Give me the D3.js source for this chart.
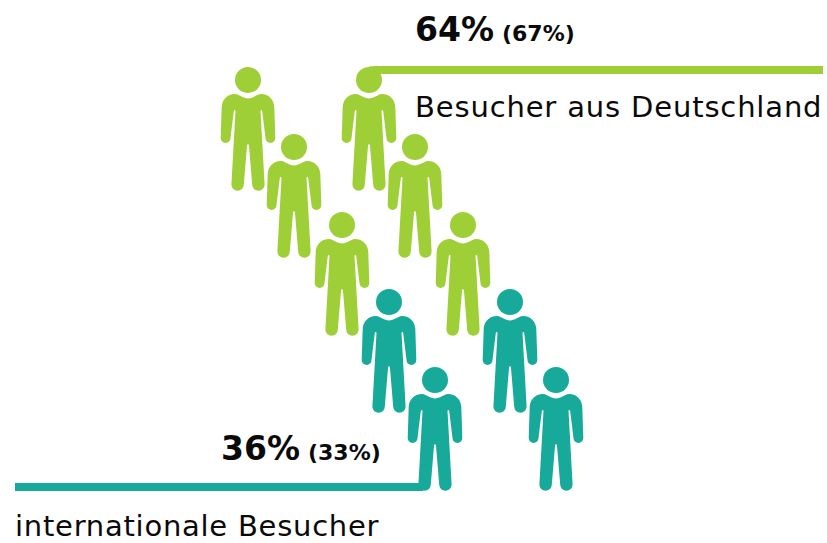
<!DOCTYPE html>
<html><head><meta charset="utf-8">
<script src="https://cdnjs.cloudflare.com/ajax/libs/d3/7.8.5/d3.min.js"></script>
<style>html,body{margin:0;padding:0;background:#fff}svg{display:block}text{font-family:"DejaVu Sans",sans-serif;fill:#0a0a0a}</style>
</head><body><svg id="c" width="827" height="543"></svg>
<script>
const groups = ["Besucher aus Deutschland", "internationale Besucher"];
const shares = [64, 36];
const previous = [67, 33];
const colors = ["#9ecf37", "#17a999"];
const columns = [0, 1];
const rows = [0, 1, 2, 3, 4];
const peopleColumn = [0,0,0,0,0,1,1,1,1,1];
const peopleRow    = [0,1,2,3,4,0,1,2,3,4];
const peopleGroup  = [0,0,0,1,1,0,0,0,1,1];

const svg = d3.select("#c");
const xRow = d3.scaleLinear().domain(rows).range([0,46,94,141,187]);
const xCol = d3.scaleOrdinal().domain(columns).range([248,369]);
const yRow = d3.scaleLinear().domain(rows).range([80,147,225,302,380]);
const color = d3.scaleOrdinal().domain([0,1]).range(colors);

const p = d3.path();
p.moveTo(-13,14);
p.bezierCurveTo(-8,14.5,-5,18.5,0,18.5);
p.bezierCurveTo(5,18.5,8,14.5,13,14);
p.bezierCurveTo(21,14,26,20,26.3,27);
p.lineTo(27.3,58);
p.arc(22.4,58,4.9,0,Math.PI,false);
p.lineTo(14.2,31);
p.bezierCurveTo(14,29.5,12.6,29.5,12.5,31);
p.lineTo(16.6,104.5);
p.arc(10.4,104.5,6.2,0,Math.PI,false);
p.lineTo(1,66);
p.bezierCurveTo(1,63.5,-1,63.5,-1,66);
p.lineTo(-4.2,104.5);
p.arc(-10.4,104.5,6.2,0,Math.PI,false);
p.lineTo(-12.5,31);
p.bezierCurveTo(-12.6,29.5,-14,29.5,-14.2,31);
p.lineTo(-17.5,58);
p.arc(-22.4,58,4.9,0,Math.PI,false);
p.lineTo(-26.3,27);
p.bezierCurveTo(-26,20,-21,14,-13,14);
p.closePath();

const persons = svg.append("g").selectAll("g")
  .data(peopleRow.map((r,i)=>({r,c:peopleColumn[i],g:peopleGroup[i]})))
  .join("g")
  .attr("transform",d=>`translate(${xCol(d.c)+xRow(d.r)},${yRow(d.r)})`)
  .attr("fill",d=>color(d.g));
persons.append("circle").attr("r",13);
persons.append("path").attr("d",p.toString());

// leader lines, starting at the persons they belong to
const topX = xCol(1), topY = yRow(0);
svg.append("path").attr("fill",color(0))
  .attr("d",`M823,${topY-14}V${topY-6}H${topX+10}L${topX},${topY-6}V${topY-13.5}Q${topX+2},${topY-14} ${topX+6},${topY-14}Z`);
const botX = xCol(0)+xRow(4), botY = yRow(4);
svg.append("path").attr("fill",color(1))
  .attr("d",`M15,${botY+103}H${botX-12}V${botY+111}H15Z`);

function label(x,y,share,prev){
  const t=svg.append("text").attr("x",x).attr("y",y);
  t.append("tspan").attr("font-size",33).attr("font-weight",700).text(share+"%");
  t.append("tspan").attr("dx",8).attr("font-size",22).attr("font-weight",700).text(`(${prev}%)`);
}
label(415,41,shares[0],previous[0]);
label(221,460,shares[1],previous[1]);
svg.append("text").attr("x",415).attr("y",116.5).attr("font-size",29).attr("letter-spacing",0.85).text(groups[0]);
svg.append("text").attr("x",15).attr("y",535.5).attr("font-size",29).attr("letter-spacing",0.75).text(groups[1]);
</script></body></html>
